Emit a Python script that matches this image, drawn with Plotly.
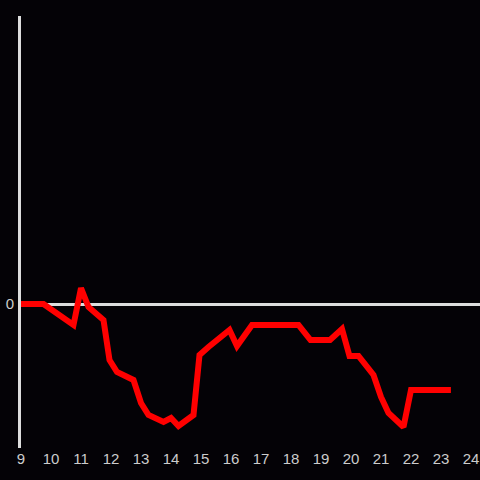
import plotly.graph_objects as go

hours = [9.0, 9.75, 10.75, 11.0, 11.25, 11.75, 11.95, 12.2, 12.75, 13.0, 13.25, 13.75, 14.0,
         14.25, 14.75, 14.95, 15.25, 15.65, 15.95, 16.2, 16.7, 18.25, 18.65, 19.3, 19.7,
         19.95, 20.25, 20.75, 21.0, 21.25, 21.75, 22.0, 23.33]
values = [0, 0, -21, 16, -3, -16, -56, -68, -76, -99, -111, -118, -114,
          -122, -111, -51, -43, -34, -26, -42, -21, -21, -36, -36, -25,
          -52, -52, -71, -93, -109, -123, -86, -86]
x_ticks = list(range(9, 25))
y_ticks = [0]

fig = go.Figure(go.Scatter(x=hours, y=values, mode="lines",
                           line=dict(color="#ff0000", width=6), hoverinfo="skip"))

bg = "#040206"
fig.update_layout(
    width=480, height=480,
    margin=dict(l=21, r=0, t=16, b=32),
    paper_bgcolor=bg, plot_bgcolor=bg,
    showlegend=False,
    font=dict(family="Liberation Sans, Arial, sans-serif", size=15, color="#cccccc"),
)
fig.update_xaxes(range=[9, 24.3], tickvals=x_ticks, ticktext=[str(t) for t in x_ticks],
                 showgrid=False, zeroline=False, showline=False, ticks="",
                 ticklabeloverflow="allow")
fig.update_yaxes(range=[-144, 288], tickvals=y_ticks, ticktext=["0"],
                 showgrid=False, zeroline=True, zerolinecolor="#dddddd", zerolinewidth=3,
                 showline=True, linecolor="#dddddd", linewidth=3, ticks="", ticklabelstandoff=1)

fig.write_html("out.html", config={"displayModeBar": False},
               post_script="document.body.style.margin='0';document.body.style.background='%s';" % bg)
